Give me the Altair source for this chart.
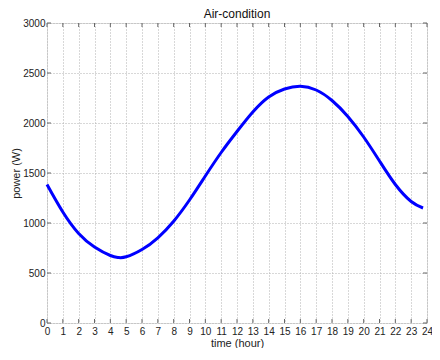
import altair as alt
import pandas as pd

hours = [0, 1, 2, 3, 4, 4.5, 5, 6, 7, 8, 9, 10, 11, 12, 13, 14, 15, 16, 17, 18, 19, 20, 21, 22, 23, 23.75]
power = [1385, 1110, 895, 760, 675, 655, 662, 735, 852, 1018, 1230, 1470, 1705, 1915, 2110, 2260, 2340,
         2368, 2330, 2225, 2065, 1860, 1620, 1385, 1215, 1150]

x_ticks = list(range(0, 25))
y_ticks = [0, 500, 1000, 1500, 2000, 2500, 3000]

W, H = 380, 300
FONT = "Liberation Sans"

df = pd.DataFrame({"hour": hours, "power": power})
xt = pd.DataFrame({"t": x_ticks})
yt = pd.DataFrame({"t": y_ticks})

xscale = alt.Scale(domain=[0, 24], nice=False, zero=False)
yscale = alt.Scale(domain=[0, 3000], nice=False)

xaxis = alt.Axis(values=x_ticks, format="d", title="time (hour)", grid=True, gridDash=[1, 2],
                 gridColor="#b0b0b0", domain=False, ticks=False, labelPadding=3,
                 labelFontSize=10, labelColor="#222222", titleFontSize=11,
                 titleFontWeight="normal", titleColor="#222222", titlePadding=1,
                 labelFont=FONT, titleFont=FONT, labelFlush=False, labelOverlap=False)
yaxis = alt.Axis(values=y_ticks, format="d", title="power (W)", grid=True, gridDash=[1, 2],
                 gridColor="#b0b0b0", domain=False, ticks=False, labelPadding=2,
                 labelFontSize=10, labelColor="#222222", titleFontSize=11,
                 titleFontWeight="normal", titleColor="#222222",
                 titleX=-26, titleY=H / 2, titleAngle=270, titleBaseline="bottom",
                 titleAlign="center",
                 labelFont=FONT, titleFont=FONT, labelFlush=False, labelOverlap=False)

line = alt.Chart(df).mark_line(color="#0000ff", strokeWidth=3, interpolate="natural").encode(
    x=alt.X("hour:Q", scale=xscale, axis=xaxis),
    y=alt.Y("power:Q", scale=yscale, axis=yaxis),
)

tick_color = "#666666"
xb = alt.Chart(xt).mark_rule(color=tick_color, strokeWidth=1).encode(
    x=alt.X("t:Q", scale=xscale, axis=xaxis), y=alt.value(H), y2=alt.value(H - 4))
xtop = alt.Chart(xt).mark_rule(color=tick_color, strokeWidth=1).encode(
    x=alt.X("t:Q", scale=xscale, axis=xaxis), y=alt.value(0), y2=alt.value(4))
yl = alt.Chart(yt).mark_rule(color=tick_color, strokeWidth=1).encode(
    y=alt.Y("t:Q", scale=yscale, axis=yaxis), x=alt.value(0), x2=alt.value(4))
yr = alt.Chart(yt).mark_rule(color=tick_color, strokeWidth=1).encode(
    y=alt.Y("t:Q", scale=yscale, axis=yaxis), x=alt.value(W), x2=alt.value(W - 4))

chart = alt.layer(line, xb, xtop, yl, yr).properties(
    width=W, height=H,
    title=alt.TitleParams("Air-condition", fontSize=12, fontWeight="normal", font=FONT,
                          color="#111111", offset=0, dy=3),
    autosize=alt.AutoSizeParams(type="none"),
    padding={"left": 39, "top": 15, "right": 5, "bottom": 25},
).configure_view(stroke="#707070", strokeWidth=1).configure(background="white")

chart.save("out.html", embed_options={"renderer": "svg", "actions": False})
